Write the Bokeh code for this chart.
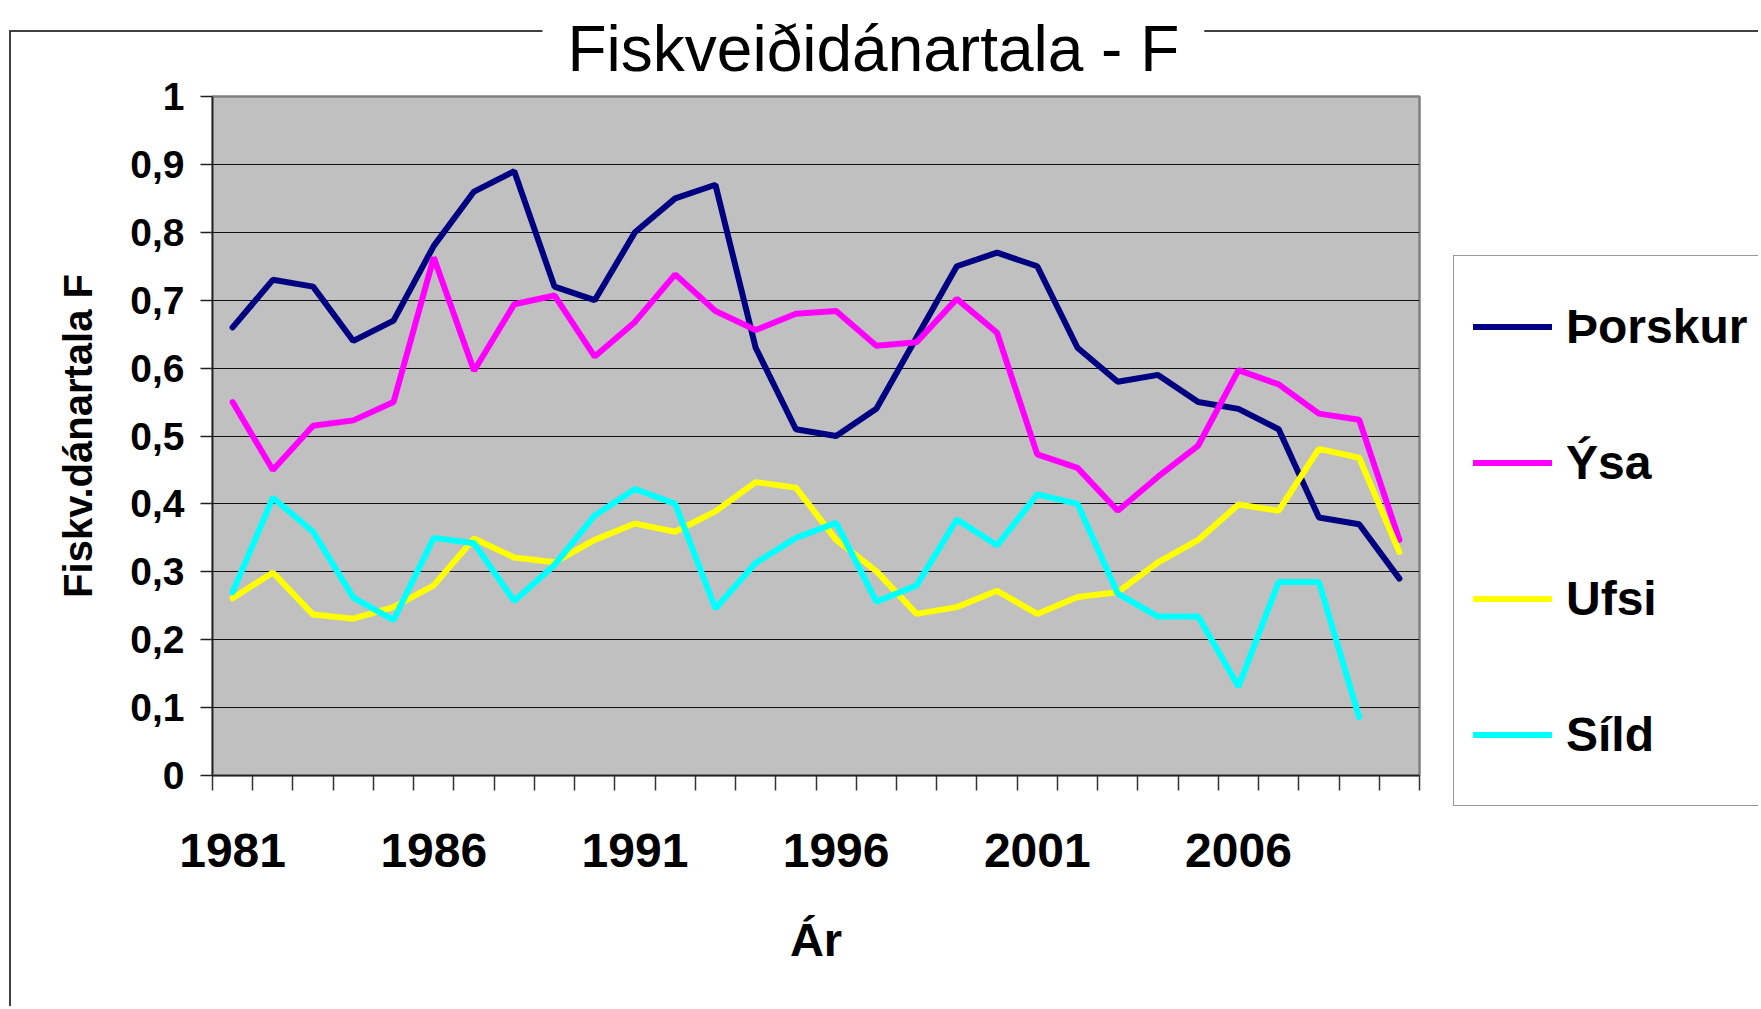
from bokeh.plotting import figure
from bokeh.models import (Range1d, FixedTicker, CustomJSTickFormatter, Legend, LegendItem)
from bokeh.embed import file_html
from bokeh.resources import INLINE

# ---------------- data ----------------
years = list(range(1981, 2011))
label_years = [1981, 1986, 1991, 1996, 2001, 2006]
y_ticks = [0, 0.1, 0.2, 0.3, 0.4, 0.5, 0.6, 0.7, 0.8, 0.9, 1]

thorskur = [0.66, 0.73, 0.72, 0.64, 0.67, 0.78, 0.86, 0.89, 0.72, 0.70,
            0.80, 0.85, 0.87, 0.63, 0.51, 0.50, 0.54, 0.645, 0.75, 0.77,
            0.75, 0.63, 0.58, 0.59, 0.55, 0.54, 0.51, 0.38, 0.37, 0.29]
ysa = [0.55, 0.45, 0.515, 0.523, 0.55, 0.763, 0.596, 0.694, 0.707, 0.617,
       0.668, 0.738, 0.684, 0.656, 0.68, 0.684, 0.633, 0.638, 0.702, 0.652,
       0.473, 0.453, 0.39, 0.44, 0.486, 0.597, 0.576, 0.533, 0.524, 0.347]
ufsi = [0.261, 0.299, 0.237, 0.231, 0.248, 0.28, 0.349, 0.321, 0.314, 0.347,
        0.371, 0.359, 0.389, 0.432, 0.424, 0.347, 0.301, 0.238, 0.248, 0.272,
        0.238, 0.263, 0.27, 0.314, 0.347, 0.399, 0.39, 0.481, 0.468, 0.329]
sild = [0.27, 0.409, 0.359, 0.262, 0.229, 0.35, 0.342, 0.257, 0.31, 0.383,
        0.422, 0.40, 0.246, 0.313, 0.35, 0.372, 0.256, 0.28, 0.377, 0.339,
        0.414, 0.40, 0.268, 0.234, 0.234, 0.131, 0.285, 0.285, 0.086]

series_names = ["Þorskur", "Ýsa", "Ufsi", "Síld"]
series_colors = ["#000080", "#FF00FF", "#FFFF00", "#00FFFF"]

title_text = "Fiskveiðidánartala - F"
x_title = "Ár"
y_title = "Fiskv.dánartala F"

FONT = "Liberation Sans"

# ---------------- layout geometry (pixels) ----------------
W, H = 1758, 1006
F_LEFT, F_RIGHT, F_TOP, F_BOTTOM = 212, 1419, 96, 775

# thin chart-area border (left and top edge) painted behind the transparent canvas;
# the host box is fixed to the window size and clips what lies beyond it
host_css = {
    "width": f"{W}px",
    "height": f"{H}px",
    "overflow": "hidden",
    "background-color": "white",
    "background-image": "linear-gradient(#404040, #404040), linear-gradient(#404040, #404040)",
    "background-size": "2px 100%, 100% 2px",
    "background-position": "9px 30px, 9px 30px",
    "background-repeat": "no-repeat",
}

p = figure(frame_width=F_RIGHT - F_LEFT, frame_height=F_BOTTOM - F_TOP,
           output_backend="svg", toolbar_location=None,
           x_range=Range1d(years[0] - 0.5, years[-1] + 0.5), y_range=Range1d(0, 1),
           min_border_left=F_LEFT, min_border_right=W - F_RIGHT,
           min_border_top=F_TOP, min_border_bottom=H - F_BOTTOM,
           background_fill_color="#C0C0C0", border_fill_color=None,
           styles=host_css)
p.outline_line_color = "#808080"
p.outline_line_width = 2.5

# title
p.title.text = title_text
p.title.text_font = FONT
p.title.text_font_size = "64px"
p.title.text_font_style = "normal"
p.title.text_color = "black"
p.title.align = "left"
p.title.vertical_align = "top"
p.title.offset = 330
p.title.standoff = 20
p.title.background_fill_color = "white"
p.title.padding = (25, 0)

p.xgrid.visible = False
p.ygrid.ticker = FixedTicker(ticks=y_ticks)
p.ygrid.grid_line_color = "#111111"
p.ygrid.grid_line_width = 1.2

# y axis
ya = p.yaxis[0]
ya.ticker = FixedTicker(ticks=y_ticks, minor_ticks=[])
ya.formatter = CustomJSTickFormatter(
    code="const s = (Math.round(tick*10)/10).toString(); return s.replace('.', ',');")
ya.axis_line_color = "#222222"
ya.axis_line_width = 1.5
ya.major_tick_out = 12
ya.major_tick_in = 0
ya.major_tick_line_color = "#222222"
ya.major_tick_line_width = 1.5
ya.minor_tick_out = 0
ya.minor_tick_in = 0
ya.major_label_standoff = 16
ya.major_label_text_font = FONT
ya.major_label_text_font_style = "bold"
ya.major_label_text_font_size = "39px"
ya.major_label_text_color = "black"
ya.axis_label = y_title
ya.axis_label_text_font = FONT
ya.axis_label_text_font_style = "bold"
ya.axis_label_text_font_size = "40px"
ya.axis_label_text_color = "black"
ya.axis_label_standoff = 27

# x axis
boundaries = [y - 0.5 for y in years] + [years[-1] + 0.5]
xa = p.xaxis[0]
xa.ticker = FixedTicker(ticks=label_years, minor_ticks=boundaries)
xa.axis_line_color = "#222222"
xa.axis_line_width = 1.5
xa.major_tick_out = 0
xa.major_tick_in = 0
xa.minor_tick_out = 15
xa.minor_tick_in = 0
xa.minor_tick_line_color = "#333333"
xa.minor_tick_line_width = 1.5
xa.major_label_standoff = 43
xa.major_label_text_font = FONT
xa.major_label_text_font_style = "bold"
xa.major_label_text_font_size = "48px"
xa.major_label_text_color = "black"
xa.axis_label = x_title
xa.axis_label_text_font = FONT
xa.axis_label_text_font_style = "bold"
xa.axis_label_text_font_size = "47px"
xa.axis_label_text_color = "black"
xa.axis_label_standoff = 43

# ---------------- lines ----------------
all_series = [thorskur, ysa, ufsi, sild]
renderers = []
for vals, col in zip(all_series, series_colors):
    r = p.line(years[:len(vals)], vals, line_color=col, line_width=6, line_cap="round")
    renderers.append(r)

# ---------------- legend ----------------
legend = Legend(items=[LegendItem(label=n, renderers=[r]) for n, r in zip(series_names, renderers)],
                location=(34, -31), orientation="vertical",
                padding=19, spacing=33, margin=0,
                glyph_width=79, glyph_height=103, label_height=103, label_standoff=14,
                label_text_font=FONT, label_text_font_style="bold", label_text_font_size="48px",
                label_text_color="black",
                border_line_color="#333333", border_line_width=1.5,
                background_fill_color="white", background_fill_alpha=1.0)
p.add_layout(legend, "right")

open("out.html", "w").write(file_html(p, INLINE))
